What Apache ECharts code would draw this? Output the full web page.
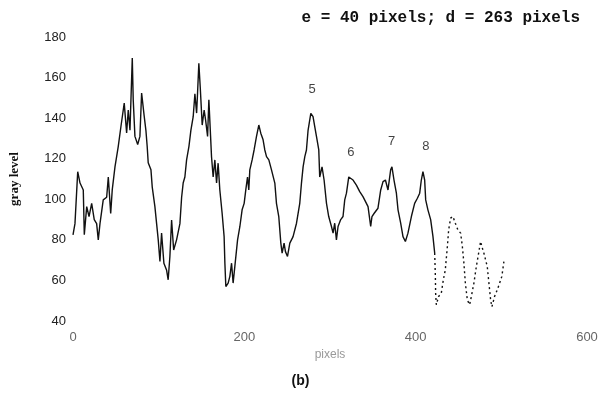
<!DOCTYPE html>
<html>
<head>
<meta charset="utf-8">
<title>gray level profile (b)</title>
<script src="https://cdn.jsdelivr.net/npm/echarts@6/dist/echarts.min.js"></script>
<style>
  html, body { margin: 0; padding: 0; background: #fff; }
  #chart { width: 601px; height: 401px; }
</style>
</head>
<body>
<div id="chart"></div>
<script>
// profile along the scan line (pixels -> gray level)
const pixelPos = [
  0, 2.3, 5.5, 8.2, 12, 13.2, 16, 18.7, 21.8, 24.8, 27.6, 29.5, 31.5, 35.3, 39.3, 41.2, 44, 45.8,
  49, 52.8, 56, 59.8, 62.6, 64.5, 66.5, 69.2, 70.3, 72.3, 75.5, 78.1, 80.1, 83.1, 85.1, 86.6, 87.8,
  91, 92.5, 95.6, 97.6, 99.5, 101.5, 103.4, 106.1, 109.3, 111.1, 113.1, 115.1, 117.5, 120.9, 124.8,
  126.8, 128.6, 130.6, 132.6, 135.3, 137.6, 140.3, 142.3, 144.3, 145.4, 146.9, 148.5, 150.8, 153.1,
  154.8, 157.1, 158.6, 160.6, 161.7, 163.6, 165.6, 167.6, 169.4, 171.4, 174.1, 176.4, 177.3, 178.4,
  181.1, 183.1, 185.1, 186.9, 188.9, 192.1, 194.8, 197.4, 199.8, 201.7, 203.7, 205.2, 206.4, 209.1,
  211.4, 214.2, 216.9, 219.2, 221.9, 223.9, 225.9, 228.6, 231.7, 235.6, 237.5, 240.2, 242.6, 244.1,
  246.4, 248, 250.4, 253.1, 256.9, 260.9, 264.7, 266.7, 268.6, 270.6, 272.5, 274.4, 277.6, 280.2,
  282.2, 284.2, 286.9, 288, 290.7, 293.1, 295.9, 298.5, 301.7, 303.6, 305.5, 307.5, 309.4, 312.5,
  315.2, 317.2, 319.2, 321.9, 324.2, 326.9, 330.8, 334.7, 338.5, 342.5, 344.4, 347.5, 349, 351.4,
  356, 359.2, 361.9, 364.7, 367.7, 370.8, 372.3, 374.7, 377.5, 379.4, 382.5, 385.2, 388, 391, 395,
  398.8, 402, 404.7, 406.6, 408.5, 410.5, 411.7, 414.3, 417.5, 420.2, 422.2
];
const grayLevel = [
  82.5, 88, 113.6, 108, 104.6, 82.5, 96.4, 91.5, 98, 90, 88, 80, 88, 99.7, 101, 111, 93, 104.6,
  116, 126, 136, 147.4, 132.7, 144, 134, 169.6, 149, 131, 127, 131, 152.4, 141, 134, 126, 118,
  114.5, 106, 96.4, 88, 80, 69.3, 83.4, 68.5, 65, 60.3, 71.8, 89.8, 75, 80, 88,
  101, 108, 111, 119.4, 126, 134, 140.7, 152, 142.5, 152.4, 167, 155.5, 136.6, 144,
  139, 131, 149, 131, 121, 111, 119.4, 108, 117.8, 104.6, 93, 81.6, 68.5, 57,
  58.7, 62, 68.5, 58.7, 66.8, 80, 86.6, 94.8, 98, 104.6, 111, 104.6, 114.5, 119.4,
  124.3, 131, 136.6, 132.6, 129.3, 124.3, 121, 119.4, 114.5, 108, 98, 91.5, 78.4, 73.5,
  78.4, 74.2, 71.8, 78.4, 81.6, 88.2, 98, 108, 116, 121, 124.3, 134, 142.4, 140.7,
  135.8, 131, 124.3, 111, 116, 109.5, 98, 91.5, 86.6, 83.3, 88.2, 80, 86.6, 90,
  91.5, 99.7, 103, 111, 110.4, 109.5, 107, 103.8, 101.3, 98, 96.4, 86.6, 91.5, 93,
  95.6, 104.6, 108.7, 109.5, 104.6, 114.5, 116, 109.5, 103, 94.8, 88.2, 81.6, 79.2, 83.3, 91.5,
  98, 100.5, 103, 109.5, 113.6, 109.5, 99.7, 94.8, 90, 81.6, 73.5
];
// faint, broken tail of the trace
const tailPos = [
  422.2, 423, 423.3, 424.1, 426.8, 429.9, 432.3, 434.6, 437, 438.5, 440.8, 443.5, 446.3, 449.3,
  452.5, 454.5, 456.3, 458, 460.3, 463, 465, 468, 470.8, 473.5, 475.8, 477.3, 479.6, 481.3,
  483.6, 485.5, 487.5, 489, 492.1, 495.3, 498, 500.6, 503
];
const tailGray = [
  73.5, 62, 53.7, 48, 52.1, 53.7, 60.3, 65.2, 76.7, 84.9, 90.7, 91.5, 88.2, 84.9,
  83.3, 76.7, 68.5, 58.7, 50.4, 48, 52.1, 58.7, 66.8, 73.5, 79.2, 76.7, 73.5, 73.5,
  66.8, 58.7, 50.4, 47, 52.1, 55.4, 58.7, 62, 69.3
];
// peak numbers written over the curve
const peakNames = ['5', '6', '7', '8'];
const peakPos = [279, 324.5, 372, 412];
const peakGray = [154, 123, 128.5, 126];

const xTicks = { min: 0, max: 600, interval: 200 };
const yTicks = { min: 40, max: 180, interval: 20 };

const chart = echarts.init(document.getElementById('chart'));

const pairs = (xs, ys) => xs.map((x, i) => [x, ys[i]]);

chart.setOption({
  animation: false,
  backgroundColor: '#fff',
  title: {
    text: 'e = 40 pixels; d = 263 pixels',
    right: 16,
    top: 5,
    textStyle: {
      fontFamily: 'Liberation Mono',
      fontWeight: 'bold',
      fontSize: 16,
      color: '#111',
    },
  },
  graphic: [
    {
      type: 'text',
      left: 'center',
      top: 374,
      style: {
        text: '(b)',
        font: 'bold 14px "Liberation Sans"',
        fill: '#111',
      },
    },
  ],
  grid: { left: 73, right: 14, top: 37, bottom: 80 },
  xAxis: {
    type: 'value',
    min: xTicks.min,
    max: xTicks.max,
    interval: xTicks.interval,
    name: 'pixels',
    nameLocation: 'middle',
    nameGap: 24,
    nameTextStyle: { fontFamily: 'Liberation Sans', fontSize: 12, color: '#999' },
    axisLine: { show: false },
    axisTick: { show: false },
    splitLine: { show: false },
    axisLabel: {
      margin: 10,
      fontFamily: 'Liberation Sans',
      fontSize: 13,
      color: '#666',
    },
  },
  yAxis: {
    type: 'value',
    min: yTicks.min,
    max: yTicks.max,
    interval: yTicks.interval,
    name: 'gray level',
    nameLocation: 'middle',
    nameGap: 52,
    nameTextStyle: {
      fontFamily: 'Liberation Serif',
      fontWeight: 'bold',
      fontSize: 13,
      color: '#111',
    },
    axisLine: { show: false },
    axisTick: { show: false },
    splitLine: { show: false },
    axisLabel: {
      margin: 7,
      fontFamily: 'Liberation Sans',
      fontSize: 13,
      color: '#222',
    },
  },
  series: [
    {
      type: 'line',
      data: pairs(pixelPos, grayLevel),
      symbol: 'none',
      lineStyle: { color: '#111', width: 1.4 },
    },
    {
      type: 'line',
      data: pairs(tailPos, tailGray),
      symbol: 'none',
      lineStyle: { color: '#111', width: 1.4, type: [2, 3] },
    },
    {
      type: 'scatter',
      data: pairs(peakPos, peakGray).map((p, i) => ({ value: p, name: peakNames[i] })),
      symbolSize: 0,
      label: {
        show: true,
        position: 'inside',
        formatter: (p) => p.name,
        fontFamily: 'Liberation Sans',
        fontSize: 13,
        color: '#111',
      },
    },
  ],
});
</script>
</body>
</html>
